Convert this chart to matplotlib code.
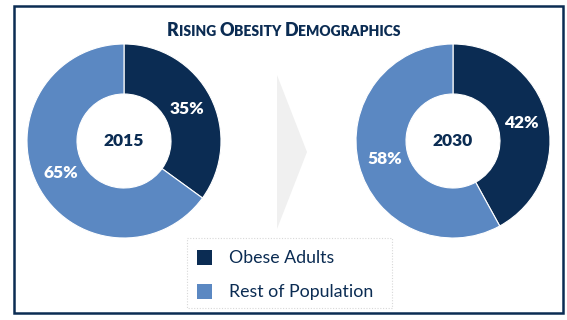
import matplotlib
matplotlib.use("Agg")
import matplotlib.pyplot as plt
from matplotlib.patches import Rectangle, Polygon
from matplotlib.offsetbox import TextArea, HPacker, AnchoredOffsetbox

plt.rcParams['font.family'] = ['Lato', 'DejaVu Sans']

title = "Rising Obesity Demographics"
years = ["2015", "2030"]
categories = ["Obese Adults", "Rest of Population"]
obese = [35, 42]
rest = [65, 58]

DARK = "#0b2c53"
LIGHT = "#5b88c2"

fig = plt.figure(figsize=(5.67, 3.2), dpi=100)
ax = fig.add_axes([0, 0, 1, 1])
ax.set_xlim(0, 567)
ax.set_ylim(320, 0)
ax.axis('off')

# frame
ax.add_patch(Rectangle((14, 6), 549, 307, fill=False, ec=DARK, lw=1.8))

# arrow chevron
ax.add_patch(Polygon([(277, 75), (307, 152), (277, 229)], closed=True,
                     fc="#f0f0f0", ec="none"))

centers = [(124, 141), (453, 141)]
R = 97
for i, (cx, cy) in enumerate(centers):
    vals = [obese[i], rest[i]]
    wedges, texts, autotexts = ax.pie(
        vals, colors=[DARK, LIGHT], startangle=-90, counterclock=True,
        center=(cx, cy), radius=R, autopct='%d%%', pctdistance=0.73,
        wedgeprops=dict(width=50, edgecolor='white', linewidth=0.8),
        textprops=dict(color='white', fontsize=12.5, fontweight='heavy'))
    ax.text(cx, cy, years[i], ha='center', va='center', fontsize=12.5,
            fontweight='heavy', color=DARK)

ax.set_xlim(0, 567)
ax.set_ylim(320, 0)
ax.set_aspect('auto')

# title in small caps
parts = []
for word_i, word in enumerate(title.upper().split()):
    if word_i > 0:
        parts.append(TextArea(" ", textprops=dict(fontsize=10, fontweight='heavy', color=DARK)))
    parts.append(TextArea(word[0], textprops=dict(fontsize=13, fontweight='heavy', color=DARK)))
    parts.append(TextArea(word[1:], textprops=dict(fontsize=10, fontweight='heavy', color=DARK)))
box = HPacker(children=parts, align="baseline", pad=0, sep=0)
ab = AnchoredOffsetbox(loc='center', child=box, frameon=False,
                       bbox_to_anchor=(284 / 567, 1 - 30 / 320),
                       bbox_transform=fig.transFigure, pad=0, borderpad=0)
ax.add_artist(ab)

# legend box
ax.add_patch(Rectangle((187, 238), 205, 70, fill=False, ec="#d8d8d8", lw=0.8,
                       ls=(0, (1, 1.5))))
leg_cols = [DARK, LIGHT]
for j, cat in enumerate(categories):
    y = 258 + j * 34
    ax.add_patch(Rectangle((197, y - 8), 15, 15, fc=leg_cols[j], ec='none'))
    ax.text(229, y, cat, ha='left', va='center', fontsize=12.8, color=DARK)

fig.savefig("out.png", dpi=100)
